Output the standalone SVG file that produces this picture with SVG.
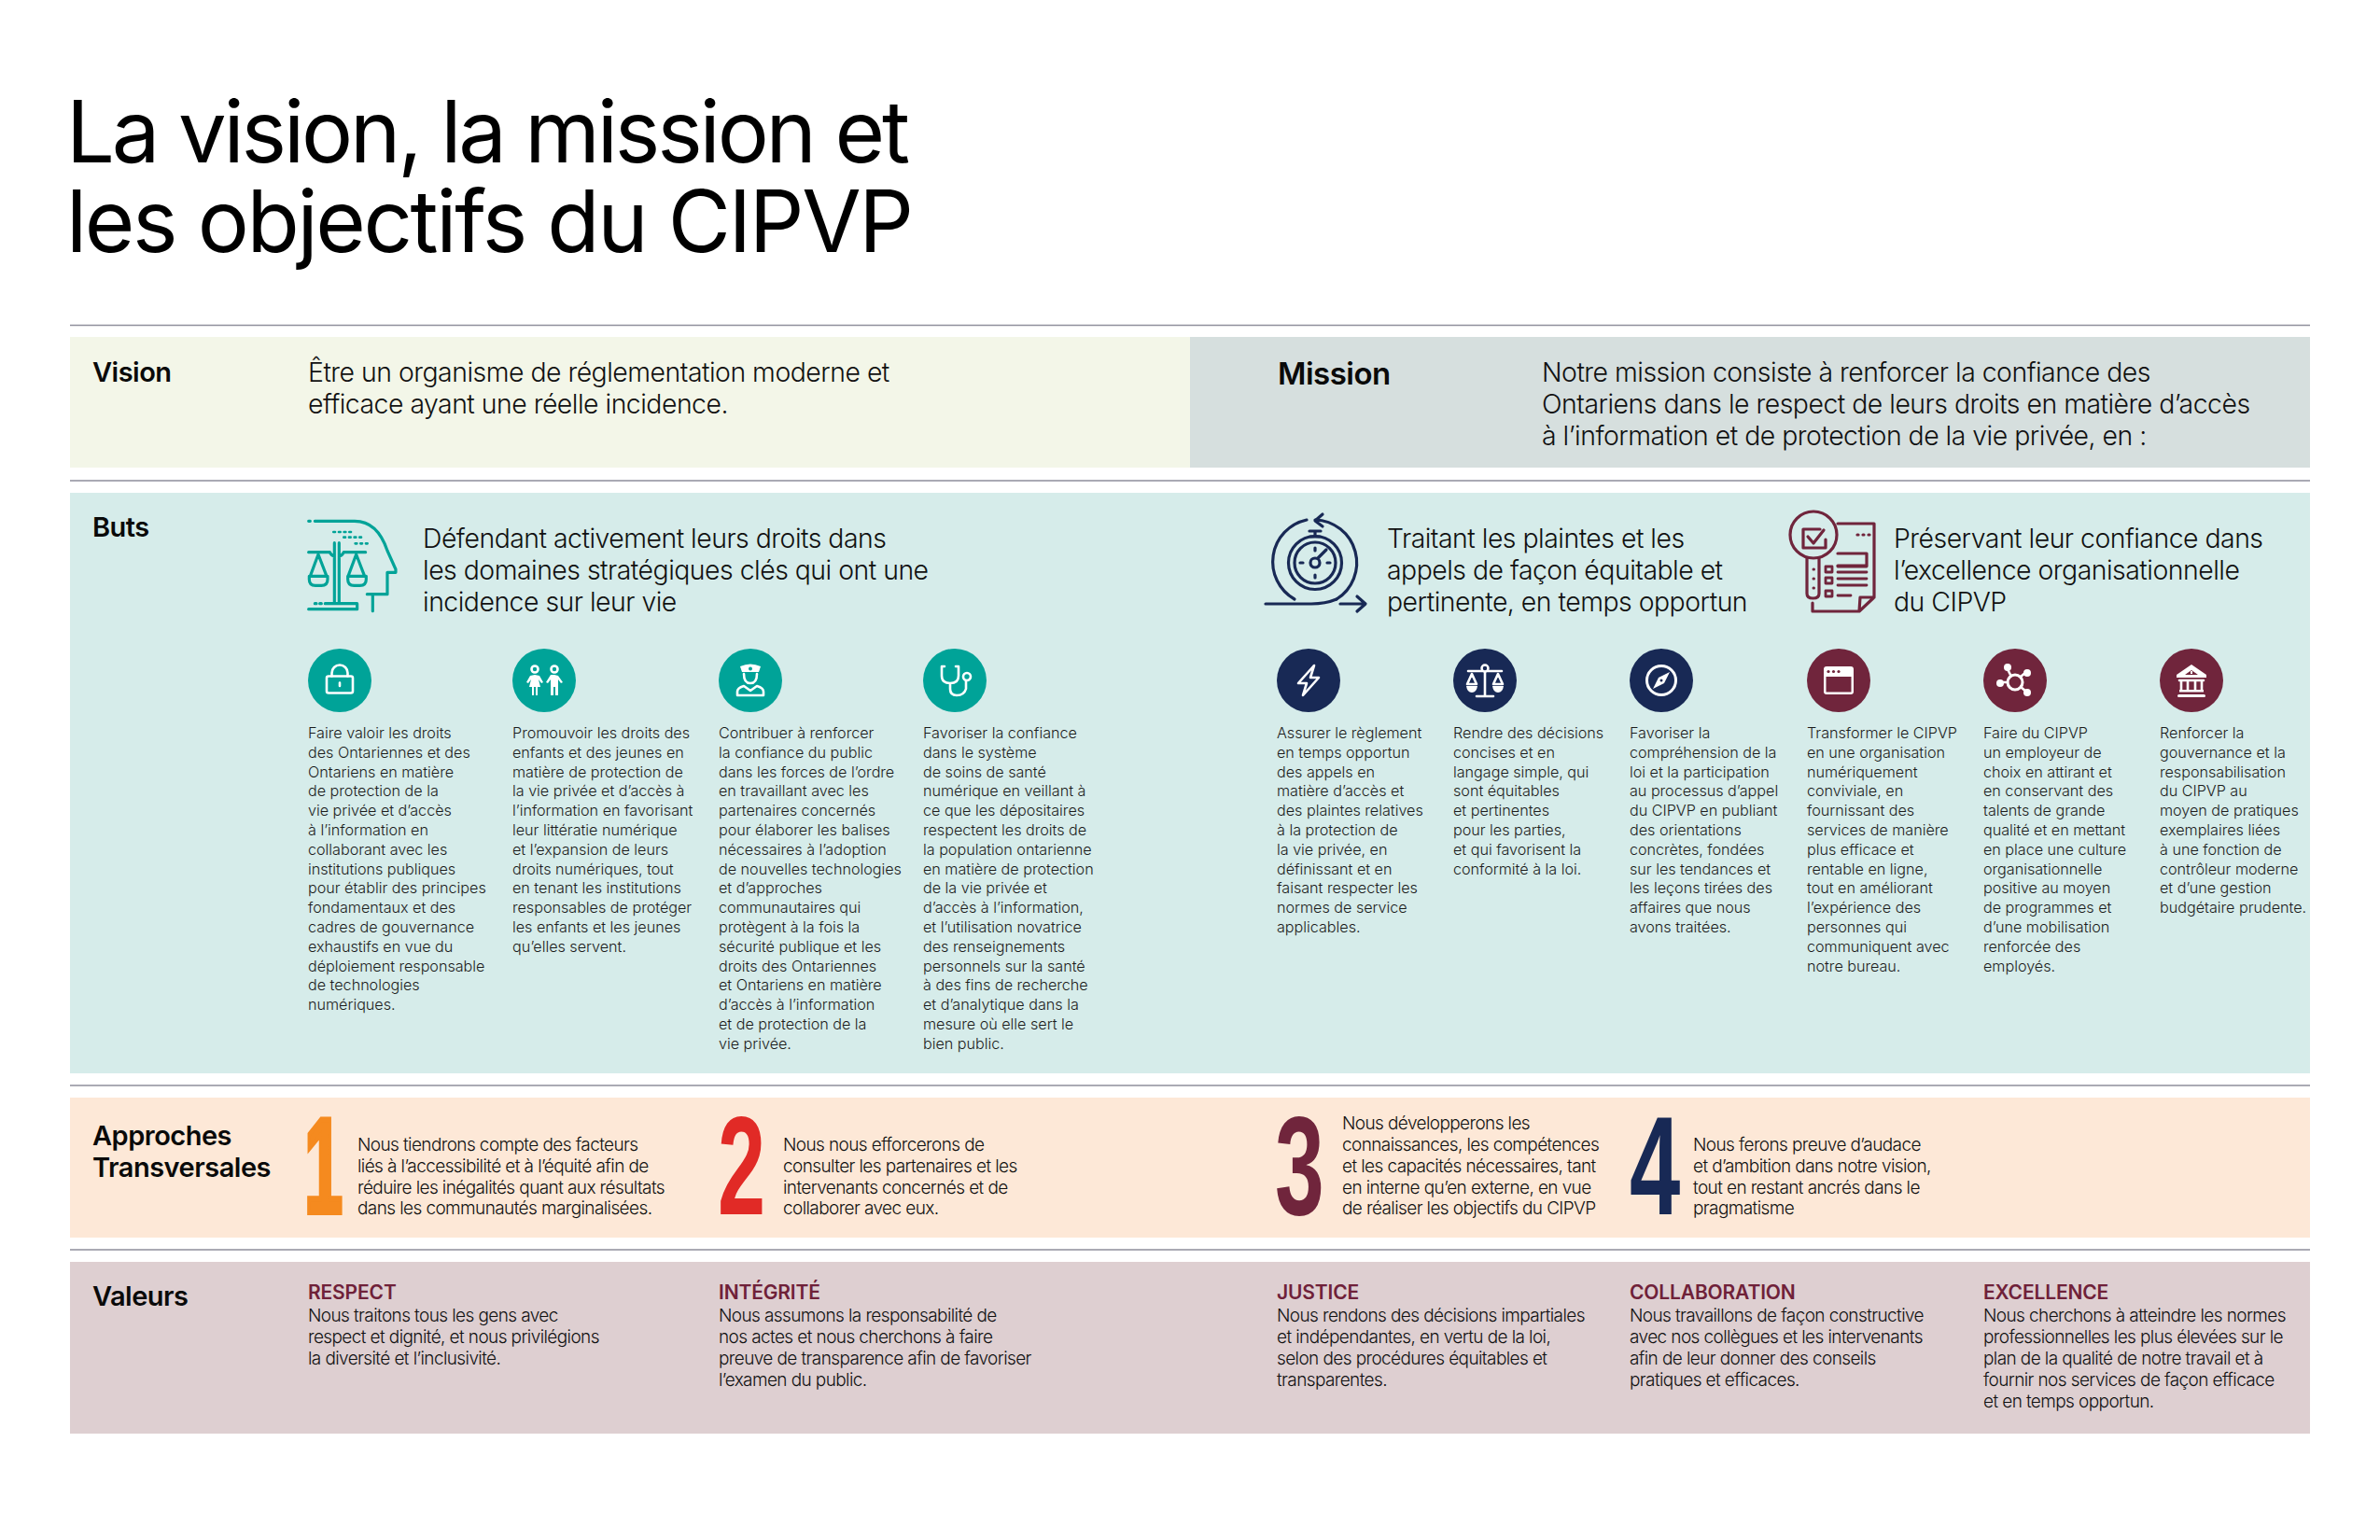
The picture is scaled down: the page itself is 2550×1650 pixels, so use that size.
<svg xmlns="http://www.w3.org/2000/svg" width="2550" height="1650" viewBox="0 0 2550 1650">
<style>
text{font-family:Inter,"Liberation Sans",sans-serif;fill:#111}
.title{font-size:92px;font-weight:400;fill:#000}
.lab{font-size:29px;font-weight:600;fill:#0a0a0a;letter-spacing:-.5px}
.lead{font-size:28.4px;font-weight:300;letter-spacing:-.5px}
.body{font-size:16.2px;font-weight:300;fill:#1c1c1c;letter-spacing:-.03px}
.app{font-size:19px;font-weight:300;letter-spacing:-.6px}
.vh{font-size:21px;font-weight:600;fill:#6f2139;letter-spacing:-.15px}
.num{font-family:"Liberation Sans",sans-serif;font-weight:700;font-size:148px}
.rule{stroke:#8f8f9c;stroke-width:1.6;fill:none}
.ln{fill:none;stroke-width:3.2;stroke-linecap:round;stroke-linejoin:round}
.w{fill:none;stroke:#fff;stroke-width:2.6;stroke-linecap:round;stroke-linejoin:round}
.wf{fill:#fff}
.t{fill:#00a398}.n{fill:#182955}.m{fill:#70253c}
</style>
<rect width="2550" height="1650" fill="#fff"/>
<g id="title"><text class="title" x="71" y="174" textLength="904" lengthAdjust="spacing">La vision, la mission et</text><text class="title" x="71" y="270" textLength="908" lengthAdjust="spacing">les objectifs du CIPVP</text></g>
<g id="rules"><path class="rule" d="M75 348.500H2475M75 515H2475M75 1163H2475M75 1339H2475"/></g>
<g id="vision"><rect x="75" y="361" width="1200" height="140" fill="#f3f6e8"/>
<text class="lab" x="99" y="409">Vision</text>
<text class="lead"><tspan x="330" y="409">Être un organisme de réglementation moderne et</tspan><tspan x="330" y="443">efficace ayant une réelle incidence.</tspan></text></g>
<g id="mission"><rect x="1275" y="361" width="1200" height="140" fill="#d6dfde"/>
<text class="lab" x="1369" y="412" style="font-size:33px">Mission</text>
<text class="lead"><tspan x="1652" y="409">Notre mission consiste à renforcer la confiance des</tspan><tspan x="1652" y="443">Ontariens dans le respect de leurs droits en matière d’accès</tspan><tspan x="1652" y="477">à l’information et de protection de la vie privée, en :</tspan></text></g>
<g id="buts"><rect x="75" y="528" width="2400" height="622" fill="#d6ecea"/>
<text class="lab" x="99" y="575">Buts</text></g>
<g id="but-1">
<g transform="translate(300 530) scale(.3333)" fill="none" stroke="#00a398" stroke-width="9.500" stroke-linecap="round" stroke-linejoin="round">
<path d="M92 85h5M112 85H240C290 85 325 120 345 180L372 240V250H345V320H280M298 320V374M92 185H160M205 185H275M160 185q5 12 15 12M205 185q-5 12-15 12M175 155V350M190 155V350M92 368H248V350H145M112 350h5M128 350h5"/>
<path d="M123 192L97 262M123 192L150 262M94 262H153V272Q153 292 133 292H114Q94 292 94 272ZM245 192L219 262M245 192L272 262M218 262H277V272Q277 292 257 292H238Q218 292 218 272Z"/>
<path stroke-width="8" stroke-dasharray="5 12" d="M172 120H232M205 137H268M242 157H288"/>
</g>
<text class="lead"><tspan x="453" y="587">Défendant activement leurs droits dans</tspan><tspan x="453" y="621">les domaines stratégiques clés qui ont une</tspan><tspan x="453" y="655">incidence sur leur vie</tspan></text>
</g>
<g id="but-2">
<g class="ln" stroke="#182955">
<circle cx="1409" cy="603" r="28.500"/><circle cx="1409" cy="603" r="22"/><circle cx="1409" cy="603" r="5"/>
<path d="M1412 598L1421 589M1404 575H1414M1409 574V569M1403 569H1415M1409 587v3M1409 616v3M1393 603h3M1422 603h3"/>
<path d="M1387 642A46 46 0 0 1 1400 557M1409 557A46 46 0 0 1 1432 642M1417 551L1409 558L1417 564"/>
<path d="M1356 647H1405Q1420 647 1432 642M1436 647H1462M1454 639L1463 647L1454 655"/>
</g>
<text class="lead"><tspan x="1486" y="587">Traitant les plaintes et les</tspan><tspan x="1486" y="621">appels de façon équitable et</tspan><tspan x="1486" y="655">pertinente, en temps opportun</tspan></text>
</g>
<g id="but-3">
<g class="ln" stroke="#70253c">
<circle cx="1943" cy="573" r="25"/>
<path d="M1956 578V587H1932V567H1950M1937 575L1943 582L1954 568M1936 598V636Q1936 641 1942.500 641Q1949 641 1949 636V598"/>
<path d="M1969 561H2008V640L1992 655H1942V646M2008 640H1993L1992 655M1969 593H2000V606H1969M1990 573h1M1996 573h1M2002 573h1"/>
<path d="M1969 607H2000M1969 613H2000M1969 620H2000M1969 627H2000M1969 638H1983M1956 607h7v6h-7zM1956 619h7v6h-7zM1956 633h7v6h-7z" stroke-width="2.800"/>
<path d="M1943 610h.5M1943 620h.5M1943 630h.5" stroke-width="3"/>
</g>
<text class="lead"><tspan x="2029" y="587">Préservant leur confiance dans</tspan><tspan x="2029" y="621">l’excellence organisationnelle</tspan><tspan x="2029" y="655">du CIPVP</tspan></text>
</g>

<g id="obj-1"><circle class="t" cx="364" cy="729" r="34"/><g transform="translate(364 729)"><rect class="w" x="-14" y="-4.500" width="28" height="18" rx="2"/><path class="w" d="M-8.500-4.500V-8A8.500 8.500 0 0 1 8.500-8V-4.500M0 2.500V6"/></g>
<text class="body"><tspan x="330" y="791">Faire valoir les droits</tspan><tspan x="330" dy="20.800">des Ontariennes et des</tspan><tspan x="330" dy="20.800">Ontariens en matière</tspan><tspan x="330" dy="20.800">de protection de la</tspan><tspan x="330" dy="20.800">vie privée et d’accès</tspan><tspan x="330" dy="20.800">à l’information en</tspan><tspan x="330" dy="20.800">collaborant avec les</tspan><tspan x="330" dy="20.800">institutions publiques</tspan><tspan x="330" dy="20.800">pour établir des principes</tspan><tspan x="330" dy="20.800">fondamentaux et des</tspan><tspan x="330" dy="20.800">cadres de gouvernance</tspan><tspan x="330" dy="20.800">exhaustifs en vue du</tspan><tspan x="330" dy="20.800">déploiement responsable</tspan><tspan x="330" dy="20.800">de technologies</tspan><tspan x="330" dy="20.800">numériques.</tspan></text></g>

<g id="obj-2"><circle class="t" cx="583" cy="729" r="34"/><g transform="translate(583 729)"><circle class="w" cx="-10" cy="-12" r="3.500"/><circle class="w" cx="11" cy="-12" r="3.500"/><path class="wf" d="M-10-6L-5-5L-1 2L-3 3L-6-1L-4 7H-7V16H-9V7H-11V16H-13V7H-16L-14-1L-17 3L-19 2L-15-5ZM11-6H7L2 2L4 3L7-1V16H10V7H12V16H15V-1L18 3L20 2L15-5Z"/></g>
<text class="body"><tspan x="549" y="791">Promouvoir les droits des</tspan><tspan x="549" dy="20.800">enfants et des jeunes en</tspan><tspan x="549" dy="20.800">matière de protection de</tspan><tspan x="549" dy="20.800">la vie privée et d’accès à</tspan><tspan x="549" dy="20.800">l’information en favorisant</tspan><tspan x="549" dy="20.800">leur littératie numérique</tspan><tspan x="549" dy="20.800">et l’expansion de leurs</tspan><tspan x="549" dy="20.800">droits numériques, tout</tspan><tspan x="549" dy="20.800">en tenant les institutions</tspan><tspan x="549" dy="20.800">responsables de protéger</tspan><tspan x="549" dy="20.800">les enfants et les jeunes</tspan><tspan x="549" dy="20.800">qu’elles servent.</tspan></text></g>

<g id="obj-3"><circle class="t" cx="804" cy="729" r="34"/><g transform="translate(804 729)"><path class="wf" d="M-11-15Q0-20 11-15L9-9H-9Z"/><circle cx="0" cy="-12.500" r="2" fill="#00a398"/><path class="w" d="M-7-7Q-7 3 0 3Q7 3 7-7"/><path class="w" d="M-14 16V12Q-14 8-7 6L0 11L7 6Q14 8 14 12V16Z"/></g>
<text class="body"><tspan x="770" y="791">Contribuer à renforcer</tspan><tspan x="770" dy="20.800">la confiance du public</tspan><tspan x="770" dy="20.800">dans les forces de l’ordre</tspan><tspan x="770" dy="20.800">en travaillant avec les</tspan><tspan x="770" dy="20.800">partenaires concernés</tspan><tspan x="770" dy="20.800">pour élaborer les balises</tspan><tspan x="770" dy="20.800">nécessaires à l’adoption</tspan><tspan x="770" dy="20.800">de nouvelles technologies</tspan><tspan x="770" dy="20.800">et d’approches</tspan><tspan x="770" dy="20.800">communautaires qui</tspan><tspan x="770" dy="20.800">protègent à la fois la</tspan><tspan x="770" dy="20.800">sécurité publique et les</tspan><tspan x="770" dy="20.800">droits des Ontariennes</tspan><tspan x="770" dy="20.800">et Ontariens en matière</tspan><tspan x="770" dy="20.800">d’accès à l’information</tspan><tspan x="770" dy="20.800">et de protection de la</tspan><tspan x="770" dy="20.800">vie privée.</tspan></text></g>

<g id="obj-4"><circle class="t" cx="1023" cy="729" r="34"/><g transform="translate(1023 729)"><path class="w" d="M-11-15H-14V-5Q-14 3-5 3Q4 3 4-5V-15H1M-5 3V9Q-5 16 2 16Q10 16 12 9V1"/><circle class="w" cx="13" cy="-4" r="4"/></g>
<text class="body"><tspan x="989" y="791">Favoriser la confiance</tspan><tspan x="989" dy="20.800">dans le système</tspan><tspan x="989" dy="20.800">de soins de santé</tspan><tspan x="989" dy="20.800">numérique en veillant à</tspan><tspan x="989" dy="20.800">ce que les dépositaires</tspan><tspan x="989" dy="20.800">respectent les droits de</tspan><tspan x="989" dy="20.800">la population ontarienne</tspan><tspan x="989" dy="20.800">en matière de protection</tspan><tspan x="989" dy="20.800">de la vie privée et</tspan><tspan x="989" dy="20.800">d’accès à l’information,</tspan><tspan x="989" dy="20.800">et l’utilisation novatrice</tspan><tspan x="989" dy="20.800">des renseignements</tspan><tspan x="989" dy="20.800">personnels sur la santé</tspan><tspan x="989" dy="20.800">à des fins de recherche</tspan><tspan x="989" dy="20.800">et d’analytique dans la</tspan><tspan x="989" dy="20.800">mesure où elle sert le</tspan><tspan x="989" dy="20.800">bien public.</tspan></text></g>

<g id="obj-5"><circle class="n" cx="1402" cy="729" r="34"/><g transform="translate(1402 729)"><path class="w" d="M6-16L-11 3H-2L-6 16L11-3H2Z"/></g>
<text class="body"><tspan x="1368" y="791">Assurer le règlement</tspan><tspan x="1368" dy="20.800">en temps opportun</tspan><tspan x="1368" dy="20.800">des appels en</tspan><tspan x="1368" dy="20.800">matière d’accès et</tspan><tspan x="1368" dy="20.800">des plaintes relatives</tspan><tspan x="1368" dy="20.800">à la protection de</tspan><tspan x="1368" dy="20.800">la vie privée, en</tspan><tspan x="1368" dy="20.800">définissant et en</tspan><tspan x="1368" dy="20.800">faisant respecter les</tspan><tspan x="1368" dy="20.800">normes de service</tspan><tspan x="1368" dy="20.800">applicables.</tspan></text></g>

<g id="obj-6"><circle class="n" cx="1591" cy="729" r="34"/><g transform="translate(1591 729)"><path class="w" d="M-18-10H18M0-10V16M-9 17H9"/><circle cx="0" cy="-13" r="3.500" fill="#182955" stroke="#fff" stroke-width="2.500"/><path class="w" d="M-14-7L-19 4H-9ZM14-7L9 4H19Z"/><path class="wf" d="M-20 6H-8Q-9 13-14 13Q-19 13-20 6ZM8 6H20Q19 13 14 13Q9 13 8 6Z"/></g>
<text class="body"><tspan x="1557" y="791">Rendre des décisions</tspan><tspan x="1557" dy="20.800">concises et en</tspan><tspan x="1557" dy="20.800">langage simple, qui</tspan><tspan x="1557" dy="20.800">sont équitables</tspan><tspan x="1557" dy="20.800">et pertinentes</tspan><tspan x="1557" dy="20.800">pour les parties,</tspan><tspan x="1557" dy="20.800">et qui favorisent la</tspan><tspan x="1557" dy="20.800">conformité à la loi.</tspan></text></g>

<g id="obj-7"><circle class="n" cx="1780" cy="729" r="34"/><g transform="translate(1780 729)"><circle cx="0" cy="0" r="15.500" fill="none" stroke="#fff" stroke-width="3"/><path class="wf" d="M9-9L3 3L-9 9L-3-3ZM-1-1A1.400 1.400 0 1 0 1 1A1.400 1.400 0 1 0-1-1Z"/></g>
<text class="body"><tspan x="1746" y="791">Favoriser la</tspan><tspan x="1746" dy="20.800">compréhension de la</tspan><tspan x="1746" dy="20.800">loi et la participation</tspan><tspan x="1746" dy="20.800">au processus d’appel</tspan><tspan x="1746" dy="20.800">du CIPVP en publiant</tspan><tspan x="1746" dy="20.800">des orientations</tspan><tspan x="1746" dy="20.800">concrètes, fondées</tspan><tspan x="1746" dy="20.800">sur les tendances et</tspan><tspan x="1746" dy="20.800">les leçons tirées des</tspan><tspan x="1746" dy="20.800">affaires que nous</tspan><tspan x="1746" dy="20.800">avons traitées.</tspan></text></g>

<g id="obj-8"><circle class="m" cx="1970" cy="729" r="34"/><g transform="translate(1970 729)"><rect x="-16" y="-15" width="32" height="30" rx="3" fill="#fff"/><rect x="-13.500" y="-4" width="27" height="16.500" fill="#70253c"/><circle cx="-11" cy="-9.500" r="1.600" fill="#70253c"/><circle cx="-5.500" cy="-9.500" r="1.600" fill="#70253c"/><circle cx="0" cy="-9.500" r="1.600" fill="#70253c"/></g>
<text class="body"><tspan x="1936" y="791">Transformer le CIPVP</tspan><tspan x="1936" dy="20.800">en une organisation</tspan><tspan x="1936" dy="20.800">numériquement</tspan><tspan x="1936" dy="20.800">conviviale, en</tspan><tspan x="1936" dy="20.800">fournissant des</tspan><tspan x="1936" dy="20.800">services de manière</tspan><tspan x="1936" dy="20.800">plus efficace et</tspan><tspan x="1936" dy="20.800">rentable en ligne,</tspan><tspan x="1936" dy="20.800">tout en améliorant</tspan><tspan x="1936" dy="20.800">l’expérience des</tspan><tspan x="1936" dy="20.800">personnes qui</tspan><tspan x="1936" dy="20.800">communiquent avec</tspan><tspan x="1936" dy="20.800">notre bureau.</tspan></text></g>

<g id="obj-9"><circle class="m" cx="2159" cy="729" r="34"/><g transform="translate(2159 729)"><circle cx="0" cy="2" r="8" fill="none" stroke="#fff" stroke-width="3"/><path class="w" d="M-5-6L-8-12M6-4L12-9M6 7L12 12M-8 2H-15"/><circle class="wf" cx="-8" cy="-14" r="4"/><circle class="wf" cx="13" cy="-8" r="4"/><circle class="wf" cx="13" cy="13" r="4"/><circle class="wf" cx="-16" cy="3" r="4"/></g>
<text class="body"><tspan x="2125" y="791">Faire du CIPVP</tspan><tspan x="2125" dy="20.800">un employeur de</tspan><tspan x="2125" dy="20.800">choix en attirant et</tspan><tspan x="2125" dy="20.800">en conservant des</tspan><tspan x="2125" dy="20.800">talents de grande</tspan><tspan x="2125" dy="20.800">qualité et en mettant</tspan><tspan x="2125" dy="20.800">en place une culture</tspan><tspan x="2125" dy="20.800">organisationnelle</tspan><tspan x="2125" dy="20.800">positive au moyen</tspan><tspan x="2125" dy="20.800">de programmes et</tspan><tspan x="2125" dy="20.800">d’une mobilisation</tspan><tspan x="2125" dy="20.800">renforcée des</tspan><tspan x="2125" dy="20.800">employés.</tspan></text></g>

<g id="obj-10"><circle class="m" cx="2348" cy="729" r="34"/><g transform="translate(2348 729)"><path class="wf" d="M0-17L16-6V-3H-16V-6ZM0-11L-7-6H7Z"/><path class="wf" d="M-1-10h2v3h-2z"/><path class="w" d="M-11 0V10M-4 0V10M4 0V10M11 0V10M-13 0H13" stroke-width="2.500"/><rect class="wf" x="-13" y="10" width="26" height="2.500"/><rect class="wf" x="-15" y="15" width="30" height="3" rx="1.500"/></g>
<text class="body"><tspan x="2314" y="791">Renforcer la</tspan><tspan x="2314" dy="20.800">gouvernance et la</tspan><tspan x="2314" dy="20.800">responsabilisation</tspan><tspan x="2314" dy="20.800">du CIPVP au</tspan><tspan x="2314" dy="20.800">moyen de pratiques</tspan><tspan x="2314" dy="20.800">exemplaires liées</tspan><tspan x="2314" dy="20.800">à une fonction de</tspan><tspan x="2314" dy="20.800">contrôleur moderne</tspan><tspan x="2314" dy="20.800">et d’une gestion</tspan><tspan x="2314" dy="20.800">budgétaire prudente.</tspan></text></g>

<g id="approches"><rect x="75" y="1176" width="2400" height="150" fill="#fde8d7"/>
<text class="lab"><tspan x="99" y="1227">Approches</tspan><tspan x="99" y="1261">Transversales</tspan></text></g>
<g id="approche-1"><text class="num" transform="translate(326 1299) scale(.5 .98)" style="fill:#f58a1f;stroke:#f58a1f;stroke-width:6;stroke-linejoin:miter">1</text>
<text class="app"><tspan x="383" y="1233">Nous tiendrons compte des facteurs</tspan><tspan x="383" y="1256">liés à l’accessibilité et à l’équité afin de</tspan><tspan x="383" y="1279">réduire les inégalités quant aux résultats</tspan><tspan x="383" y="1301">dans les communautés marginalisées.</tspan></text></g>
<g id="approche-2"><text class="num" transform="translate(769 1301) scale(.62 1.010)" style="fill:#e12a26">2</text>
<text class="app"><tspan x="839" y="1233">Nous nous efforcerons de</tspan><tspan x="839" y="1256">consulter les partenaires et les</tspan><tspan x="839" y="1279">intervenants concernés et de</tspan><tspan x="839" y="1301">collaborer avec eux.</tspan></text></g>
<g id="approche-3"><text class="num" transform="translate(1366 1301) scale(.64 1.010)" style="fill:#70253c">3</text>
<text class="app"><tspan x="1438" y="1210">Nous développerons les</tspan><tspan x="1438" y="1233">connaissances, les compétences</tspan><tspan x="1438" y="1256">et les capacités nécessaires, tant</tspan><tspan x="1438" y="1279">en interne qu’en externe, en vue</tspan><tspan x="1438" y="1301">de réaliser les objectifs du CIPVP</tspan></text></g>
<g id="approche-4"><text class="num" transform="translate(1746 1301) scale(.66 1.010)" style="fill:#182955">4</text>
<text class="app"><tspan x="1814" y="1233">Nous ferons preuve d’audace</tspan><tspan x="1814" y="1256">et d’ambition dans notre vision,</tspan><tspan x="1814" y="1279">tout en restant ancrés dans le</tspan><tspan x="1814" y="1301">pragmatisme</tspan></text></g>

<g id="valeurs"><rect x="75" y="1352" width="2400" height="184" fill="#decfd1"/>
<text class="lab" x="99" y="1399">Valeurs</text></g>
<g id="val-1"><text class="vh" x="330" y="1392">RESPECT</text><text class="app"><tspan x="330" y="1416">Nous traitons tous les gens avec</tspan><tspan x="330" y="1439">respect et dignité, et nous privilégions</tspan><tspan x="330" y="1462">la diversité et l’inclusivité.</tspan></text></g>
<g id="val-2"><text class="vh" x="770" y="1392">INTÉGRITÉ</text><text class="app"><tspan x="770" y="1416">Nous assumons la responsabilité de</tspan><tspan x="770" y="1439">nos actes et nous cherchons à faire</tspan><tspan x="770" y="1462">preuve de transparence afin de favoriser</tspan><tspan x="770" y="1485">l’examen du public.</tspan></text></g>
<g id="val-3"><text class="vh" x="1368" y="1392">JUSTICE</text><text class="app"><tspan x="1368" y="1416">Nous rendons des décisions impartiales</tspan><tspan x="1368" y="1439">et indépendantes, en vertu de la loi,</tspan><tspan x="1368" y="1462">selon des procédures équitables et</tspan><tspan x="1368" y="1485">transparentes.</tspan></text></g>
<g id="val-4"><text class="vh" x="1746" y="1392">COLLABORATION</text><text class="app"><tspan x="1746" y="1416">Nous travaillons de façon constructive</tspan><tspan x="1746" y="1439">avec nos collègues et les intervenants</tspan><tspan x="1746" y="1462">afin de leur donner des conseils</tspan><tspan x="1746" y="1485">pratiques et efficaces.</tspan></text></g>
<g id="val-5"><text class="vh" x="2125" y="1392">EXCELLENCE</text><text class="app"><tspan x="2125" y="1416">Nous cherchons à atteindre les normes</tspan><tspan x="2125" y="1439">professionnelles les plus élevées sur le</tspan><tspan x="2125" y="1462">plan de la qualité de notre travail et à</tspan><tspan x="2125" y="1485">fournir nos services de façon efficace</tspan><tspan x="2125" y="1508">et en temps opportun.</tspan></text></g>
</svg>
